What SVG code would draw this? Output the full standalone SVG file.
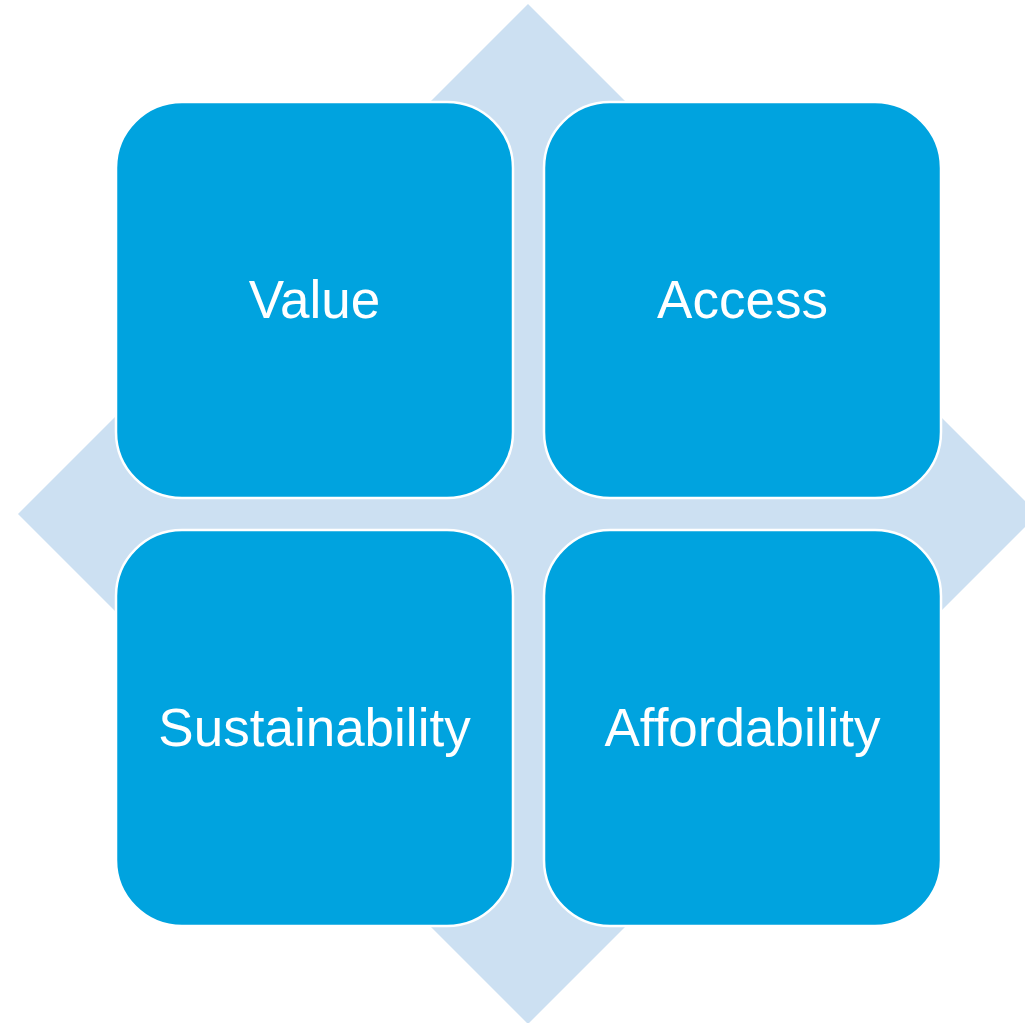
<svg xmlns="http://www.w3.org/2000/svg" width="1025" height="1023" viewBox="0 0 1025 1023">
<style>
.box{fill:#00A3DF;stroke:#FFFFFF;stroke-width:2.5}
.lbl{fill:#FFFFFF;font-family:"Liberation Sans",Arial,sans-serif;font-size:53px;text-anchor:middle}
</style>
<rect width="1025" height="1023" fill="#FFFFFF"/>
<g id="diamond">
<polygon points="528,4 1038,514 528,1024 18,514" fill="#CCE0F2"/>
</g>
<g id="connectors"></g>
<g id="value">
<rect class="box" x="116" y="102" width="397" height="396" rx="66"/>
<text class="lbl" x="314.5" y="318">Value</text>
</g>
<g id="access">
<rect class="box" x="544" y="102" width="397" height="396" rx="66"/>
<text class="lbl" x="742.5" y="318">Access</text>
</g>
<g id="sustainability">
<rect class="box" x="116" y="530" width="397" height="396" rx="66"/>
<text class="lbl" x="314.5" y="746">Sustainability</text>
</g>
<g id="affordability">
<rect class="box" x="544" y="530" width="397" height="396" rx="66"/>
<text class="lbl" x="742.5" y="746">Affordability</text>
</g>
</svg>
